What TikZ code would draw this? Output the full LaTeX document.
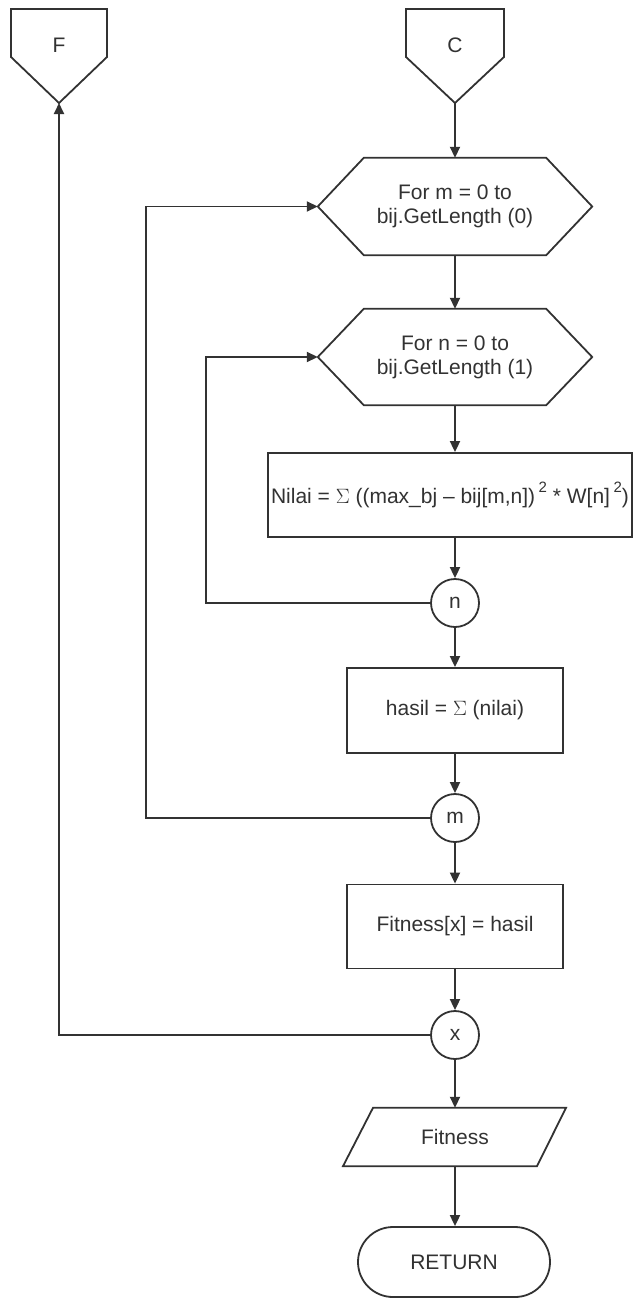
\documentclass[tikz,border=0pt]{standalone}
\usepackage{fontspec}
\setmainfont{Liberation Sans}
\usetikzlibrary{arrows.meta,calc}
\definecolor{ink}{RGB}{50,50,50}

\begin{document}
\begin{tikzpicture}[x=1pt,y=-1pt,
  txt/.style={font=\fontsize{21}{24}\selectfont, text=ink, align=center, inner sep=0pt},
  outline/.style={draw=ink, line width=1.8pt, fill=white, line join=miter},
  procbox/.style={txt, outline, rectangle},
  core/.style={txt, rectangle, draw=none},
  joint/.style={txt, outline, circle, minimum size=48pt},
  arr/.style={draw=ink, line width=1.8pt, -{Triangle[length=11pt,width=10pt]}},
  ]
\useasboundingbox (0,0) rectangle (634,1298);

% off-page connectors
\draw[outline] (11,9) -- (107,9) -- (107,57) -- (59,103) -- (11,57) -- cycle;
\node[txt] (F) at (59,45) {F};
\coordinate (Fp) at (59,103);
\draw[outline] (406,9) -- (504,9) -- (504,57) -- (455,103) -- (406,57) -- cycle;
\node[txt] (C) at (455,45) {C};
\coordinate (Cp) at (455,103);

% loop headers (hexagons)
\node[core, minimum width=182pt, minimum height=97pt] (h1) at (455,206.5) {For m = 0 to\\bij.GetLength (0)};
\node[core, minimum width=182pt, minimum height=96pt] (h2) at (455,357) {For n = 0 to\\bij.GetLength (1)};
\foreach \h in {h1,h2}{
  \draw[outline, fill=none] (\h.north west) -- (\h.north east) -- ($(\h.east)+(46,0)$)
    -- (\h.south east) -- (\h.south west) -- ($(\h.west)+(-46,0)$) -- cycle;
}
\coordinate (h1w) at ($(h1.west)+(-46,0)$);
\coordinate (h2w) at ($(h2.west)+(-46,0)$);

% process steps
\node[procbox, minimum width=364pt, minimum height=84pt] (nilai) at (450,495)
  {Nilai = \(\Sigma\) ((max\_bj – bij[m,n])\,\raisebox{0.55em}{\fontsize{15}{15}\selectfont 2} * W[n]\,\raisebox{0.55em}{\fontsize{15}{15}\selectfont 2})};
\node[joint] (cn) at (455,603) {n};
\node[procbox, minimum width=216pt, minimum height=85pt] (hasil) at (455,710.5) {hasil = \(\Sigma\) (nilai)};
\node[joint] (cm) at (455,818) {m};
\node[procbox, minimum width=216pt, minimum height=84pt] (fx) at (455,926.5) {Fitness[x] = hasil};
\node[joint] (cx) at (455,1035) {x};

% output (parallelogram)
\node[core, minimum width=194pt, minimum height=58pt] (par) at (455,1137) {Fitness};
\draw[outline, fill=none] ($(par.north)+(-82,0)$) -- ($(par.north)+(111,0)$)
  -- ($(par.south)+(82,0)$) -- ($(par.south)+(-112,0)$) -- cycle;

% terminator
\node[procbox, rounded corners=35pt, minimum width=192pt, minimum height=70pt] (ret) at (454,1262) {RETURN};

% main flow
\draw[arr] (Cp) -- (h1.north);
\draw[arr] (h1.south) -- (h2.north);
\draw[arr] (h2.south) -- (h2.south |- nilai.north);
\draw[arr] (nilai.south -| cn.north) -- (cn.north);
\draw[arr] (cn.south) -- (hasil.north);
\draw[arr] (hasil.south) -- (cm.north);
\draw[arr] (cm.south) -- (fx.north);
\draw[arr] (fx.south) -- (cx.north);
\draw[arr] (cx.south) -- (par.north);
\draw[arr] (par.south) -- (par.south |- ret.north);

% loop returns
\draw[arr] (cn.west) -- ++(-224,0) |- (h2w);
\draw[arr] (cm.west) -- ++(-284,0) |- (h1w);
\draw[arr] (cx.west) -| (Fp);
\end{tikzpicture}
\end{document}
